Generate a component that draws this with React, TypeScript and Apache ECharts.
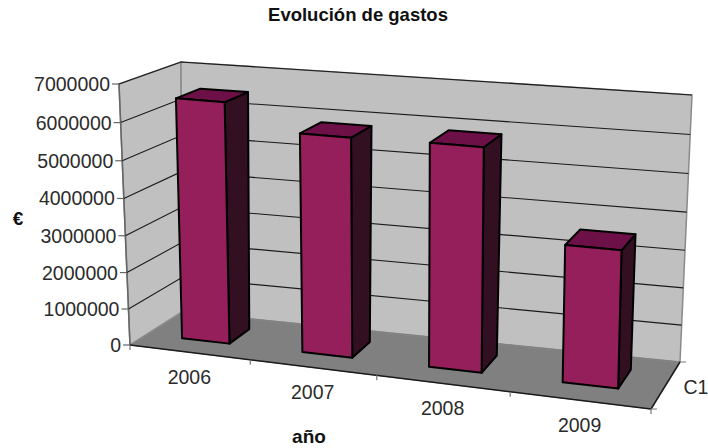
import React, { useEffect, useRef } from "react";
import * as echarts from "echarts";

const categories = ["2006", "2007", "2008", "2009"];
const gastos = [6510000, 5860000, 5900000, 3600000];
const yTicks = [0, 1000000, 2000000, 3000000, 4000000, 5000000, 6000000, 7000000];
const xBoundaries = [0, 1, 2, 3, 4];
const seriesLabel = "C1";
const titleText = "Evolución de gastos";
const yName = "€";
const xName = "año";

// Corners of the drawn box (layout): [horizontal][depth]: bottom and top
const BOX = {
  fb0: [130, 345], fb1: [651, 409], bb0: [182, 312], bb1: [680, 362],
  ft0: [119, 84], ft1: [657, 129], bt0: [181, 62], bt1: [692, 95],
};
const mix = (a: number[], b: number[], t: number) => [a[0] + (b[0] - a[0]) * t, a[1] + (b[1] - a[1]) * t];
const warp = (u: number) => (0.9 * u) / (1 - 0.1 * u);
const warpV = (v: number) => (0.96 * v) / (1 - 0.04 * v);
// u: along categories (0..1), v: along value (0..1), z: depth (0 front..1 back)
function project(u: number, v: number, z: number) {
  const w = warp(u);
  const bottom = mix(mix(BOX.fb0, BOX.fb1, w), mix(BOX.bb0, BOX.bb1, w), z);
  const top = mix(mix(BOX.ft0, BOX.ft1, w), mix(BOX.bt0, BOX.bt1, w), z);
  return mix(bottom, top, warpV(v));
}
const toUV = (params: any, p: number[]) => {
  const cs = params.coordSys;
  return [(p[0] - cs.x) / cs.width, 1 - (p[1] - cs.y) / cs.height];
};
const FONT = "19.5px 'Liberation Sans', Arial, sans-serif";
const INK = "#2b2b2b";
const BAR_FRONT = 0.33;
const BAR_BACK = 0.74;
const BAR_RATIO = 0.4;

const poly = (points: number[][], fill: string, stroke: string, lineWidth: number) => ({
  type: "polygon",
  shape: { points },
  style: { fill, stroke, lineWidth, lineJoin: "round" },
});
const line = (points: number[][], stroke: string, lineWidth: number) => ({
  type: "polyline",
  shape: { points },
  style: { fill: "none", stroke, lineWidth },
});
const label = (text: string, x: number, y: number, textAlign: string) => ({
  type: "text",
  style: { text, x, y, textAlign, textVerticalAlign: "middle", font: FONT, fill: INK },
});

function renderWalls() {
  const W = "#C0C0C0";
  const E = "#8a8a8a";
  return {
    type: "group",
    children: [
      poly([project(0, 0, 0), project(1, 0, 0), project(1, 0, 1), project(0, 0, 1)], "#808080", "#808080", 1),
      poly([project(0, 0, 0), project(0, 0, 1), project(0, 1, 1), project(0, 1, 0)], W, E, 1.5),
      poly([project(0, 0, 1), project(1, 0, 1), project(1, 1, 1), project(0, 1, 1)], W, E, 1.5),
      line([project(0, 0, 1), project(1, 0, 1)], "#808080", 1),
      line([project(0, 0, 0), project(0, 1, 0)], "#666666", 1.5),
      line([project(0, 0, 0), project(1, 0, 0)], "#1a1a1a", 1.5),
      line([project(1, 0, 0), project(1, 0, 1)], "#1a1a1a", 1.5),
      line([project(1, 0, 0), [project(1, 0, 0)[0] + 6, project(1, 0, 0)[1]]], "#777777", 1),
      line([project(1, 0, 1), [project(1, 0, 1)[0] + 6, project(1, 0, 1)[1]]], "#777777", 1),
      label(seriesLabel, project(1, 0, 0.5)[0] + 18, project(1, 0, 0.5)[1] + 1, "left"),
    ],
  };
}

function renderYTick(params: any, api: any) {
  const [, v] = toUV(params, api.coord([0, api.value(1)]));
  const a = project(0, v, 0);
  const b = project(0, v, 1);
  const c = project(1, v, 1);
  const children: any[] = [
    line([[a[0] - 7, a[1]], a], "#666666", 1.2),
    label(String(api.value(1)), a[0] - 9, a[1], "right"),
  ];
  if (v > 0) children.unshift(line([a, b, c], "#1a1a1a", 1.1));
  return { type: "group", children };
}

function renderXBoundary(params: any, api: any) {
  const i = api.value(0);
  const p = project(i / 4, 0, 0);
  return line([p, [p[0], p[1] + 5]], "#777777", 1.2);
}

function renderXLabel(params: any, api: any) {
  const [u] = toUV(params, api.coord([api.value(0), 0]));
  const p = project(u, 0, 0);
  return label(categories[api.value(0)], p[0], p[1] + 25, "center");
}

function renderBar(params: any, api: any) {
  const [u, v] = toUV(params, api.coord([api.value(0), api.value(1)]));
  const half = (api.size([1, 0])[0] * BAR_RATIO) / 2 / params.coordSys.width;
  const l = u - half;
  const r = u + half;
  const zf = BAR_FRONT;
  const zb = BAR_BACK;
  return {
    type: "group",
    children: [
      poly([project(r, 0, zf), project(r, 0, zb), project(r, v, zb), project(r, v, zf)], "#330F22", "#000", 2),
      poly([project(l, v, zf), project(r, v, zf), project(r, v, zb), project(l, v, zb)], "#6E1048", "#000", 2),
      poly([project(l, 0, zf), project(r, 0, zf), project(r, v, zf), project(l, v, zf)], "#951F5B", "#000", 2),
    ],
  };
}

export default function App() {
  const ref = useRef<HTMLDivElement>(null);
  useEffect(() => {
    document.body.style.margin = "0";
    const chart = echarts.init(ref.current!, undefined, { renderer: "svg" });
    chart.setOption({
      animation: false,
      backgroundColor: "#ffffff",
      title: {
        text: titleText,
        left: 353,
        top: 0,
        textAlign: "center",
        textStyle: { fontFamily: "'Liberation Sans', Arial, sans-serif", fontSize: 18.5, fontWeight: "bold", color: "#111" },
      },
      grid: { left: 0, right: 0, top: 0, bottom: 0 },
      xAxis: { type: "category", data: categories, show: false },
      yAxis: { type: "value", min: 0, max: 7000000, interval: 1000000, show: false },
      graphic: [
        { type: "text", x: 18, y: 218, style: { text: yName, font: "bold 19px 'Liberation Sans', Arial, sans-serif", fill: "#111", textAlign: "center", textVerticalAlign: "middle" } },
        { type: "text", x: 309, y: 436, style: { text: xName, font: "bold 19px 'Liberation Sans', Arial, sans-serif", fill: "#111", textAlign: "center", textVerticalAlign: "middle" } },
      ],
      series: [
        { type: "custom", name: "walls", z: 1, silent: true, clip: false, data: [[0, 0]], encode: { x: 0, y: 1 }, renderItem: renderWalls },
        { type: "custom", name: "yTicks", z: 2, silent: true, clip: false, data: yTicks.map((t) => [0, t]), encode: { x: 0, y: 1 }, renderItem: renderYTick },
        { type: "custom", name: "xTicks", z: 2, silent: true, clip: false, data: xBoundaries.map((b) => [b, 0]), encode: { y: 1 }, renderItem: renderXBoundary },
        { type: "custom", name: "xLabels", z: 2, silent: true, clip: false, data: categories.map((_, i) => [i, 0]), encode: { x: 0, y: 1 }, renderItem: renderXLabel },
        { type: "custom", name: "Gastos", z: 3, silent: true, clip: false, data: gastos.map((g, i) => [i, g]), encode: { x: 0, y: 1 }, renderItem: renderBar },
      ],
    });
    return () => chart.dispose();
  }, []);
  return <div ref={ref} style={{ width: 708, height: 448 }} />;
}
